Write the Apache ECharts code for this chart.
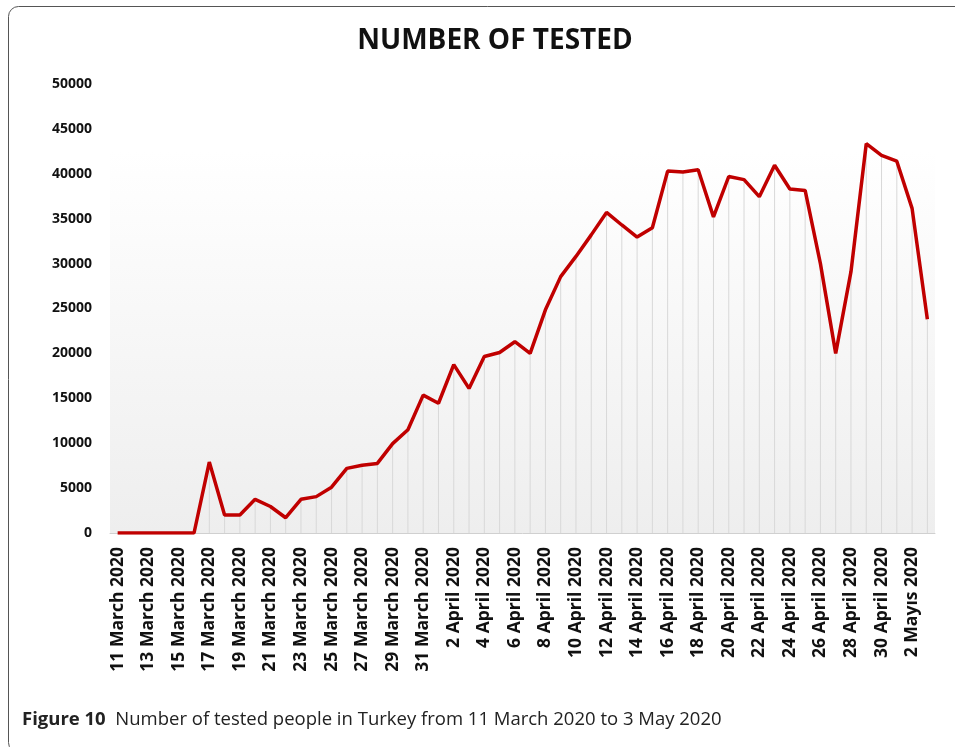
<!DOCTYPE html>
<html>
<head>
    <meta charset="UTF-8">
    <title>Number of tested</title>
    <script src="https://cdn.jsdelivr.net/npm/echarts@6/dist/echarts.min.js"></script>
    <style>
        html, body { margin: 0; padding: 0; background: #fff; }
        #chart { width: 955px; height: 747px; }
    </style>
</head>
<body>
<div id="chart"></div>
<script>
    // dates, 11 March 2020 .. 3 May 2020
    var dates = [
        '11 March 2020', '12 March 2020', '13 March 2020', '14 March 2020', '15 March 2020',
        '16 March 2020', '17 March 2020', '18 March 2020', '19 March 2020', '20 March 2020',
        '21 March 2020', '22 March 2020', '23 March 2020', '24 March 2020', '25 March 2020',
        '26 March 2020', '27 March 2020', '28 March 2020', '29 March 2020', '30 March 2020',
        '31 March 2020', '1 April 2020', '2 April 2020', '3 April 2020', '4 April 2020',
        '5 April 2020', '6 April 2020', '7 April 2020', '8 April 2020', '9 April 2020',
        '10 April 2020', '11 April 2020', '12 April 2020', '13 April 2020', '14 April 2020',
        '15 April 2020', '16 April 2020', '17 April 2020', '18 April 2020', '19 April 2020',
        '20 April 2020', '21 April 2020', '22 April 2020', '23 April 2020', '24 April 2020',
        '25 April 2020', '26 April 2020', '27 April 2020', '28 April 2020', '29 April 2020',
        '30 April 2020', '1 Mayıs 2020', '2 Mayıs 2020', '3 Mayıs 2020'
    ];
    var tested = [
        0, 0, 0, 0, 0, 0, 7900, 2000, 2000, 3750,
        2950, 1700, 3750, 4050, 5100, 7200, 7550, 7750, 9950, 11500,
        15350, 14450, 18750, 16100, 19650, 20100, 21300, 20000, 24850, 28550,
        30800, 33200, 35700, 34300, 32950, 34000, 40300, 40200, 40450, 35200,
        39700, 39350, 37450, 40950, 38300, 38150, 30000, 20000, 29100, 43350,
        42050, 41400, 36150, 23800
    ];
    var yTicks = [0, 5000, 10000, 15000, 20000, 25000, 30000, 35000, 40000, 45000, 50000];

    var chart = echarts.init(document.getElementById('chart'));
    var labelFont = '"Open Sans", sans-serif';

    var option = {
        animation: false,
        title: {
            text: 'NUMBER OF TESTED',
            left: 490,
            textAlign: 'center',
            top: 22,
            textStyle: { fontFamily: labelFont, fontWeight: 'bold', fontSize: 28, color: '#111' }
        },
        grid: {
            left: 110, right: 20, top: 84, bottom: 214,
            show: true,
            borderWidth: 0,
            backgroundColor: new echarts.graphic.LinearGradient(0, 0, 0, 1, [
                { offset: 0, color: '#ffffff' },
                { offset: 0.15, color: '#ffffff' },
                { offset: 1, color: '#eeeeee' }
            ])
        },
        xAxis: {
            type: 'category',
            data: dates,
            boundaryGap: true,
            axisLine: { lineStyle: { color: '#d0d0d0', width: 1 } },
            axisTick: { show: false },
            axisLabel: {
                interval: 1,
                rotate: 90,
                margin: 14,
                color: '#111',
                fontFamily: labelFont,
                fontWeight: 'bold',
                fontSize: 17.5
            }
        },
        yAxis: {
            type: 'value',
            min: yTicks[0],
            max: yTicks[yTicks.length - 1],
            interval: yTicks[1] - yTicks[0],
            axisLine: { show: false },
            axisTick: { show: false },
            splitLine: { show: false },
            axisLabel: {
                margin: 18,
                color: '#111',
                fontFamily: labelFont,
                fontWeight: 'bold',
                fontSize: 14,
                formatter: function (v) { return String(v); }
            }
        },
        series: [
            {
                // thin drop lines under each point
                type: 'bar',
                data: tested,
                barWidth: 1,
                itemStyle: { color: '#d8d8d8' },
                silent: true
            },
            {
                type: 'line',
                data: tested,
                symbol: 'none',
                lineStyle: { color: '#c00000', width: 3.5 },
                z: 5
            }
        ],
        graphic: [
            {
                type: 'rect',
                shape: { x: 8.5, y: 6.5, width: 960, height: 746, r: 10 },
                style: { fill: 'none', stroke: '#555', lineWidth: 1 }
            },
            {
                type: 'text',
                left: 22,
                top: 710,
                style: {
                    text: '{b|Figure 10}  Number of tested people in Turkey from 11 March 2020 to 3 May 2020',
                    rich: {
                        b: { fontWeight: 'bold', fontSize: 18.5, fontFamily: '"Open Sans", sans-serif', fill: '#222' }
                    },
                    fontSize: 18.5,
                    fontFamily: '"Open Sans", sans-serif',
                    fill: '#222'
                }
            }
        ]
    };
    chart.setOption(option);
</script>
</body>
</html>
